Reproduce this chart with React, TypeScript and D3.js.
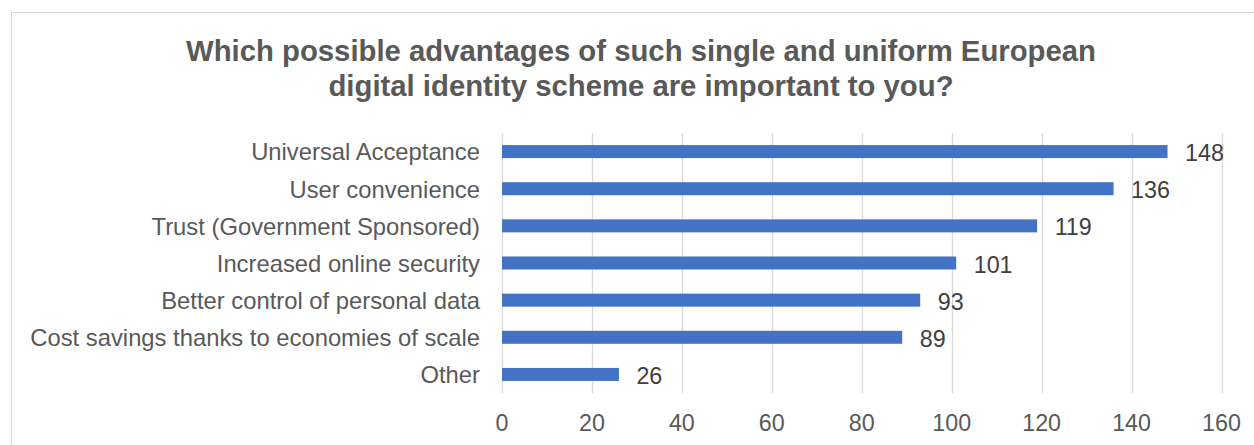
import React from "react";
import * as d3 from "d3";

const titleLines = [
  "Which possible advantages of such single and uniform European",
  "digital identity scheme are important to you?",
];
const categories = [
  "Universal Acceptance",
  "User convenience",
  "Trust (Government Sponsored)",
  "Increased online security",
  "Better control of personal data",
  "Cost savings thanks to economies of scale",
  "Other",
];
const values = [148, 136, 119, 101, 93, 89, 26];
const ticks = [0, 20, 40, 60, 80, 100, 120, 140, 160];

const W = 1254;
const H = 445;
const FONT = "Arial, 'Liberation Sans', sans-serif";

export default function App() {
  const x = d3.scaleLinear().domain([0, 160]).range([502, 1221.5]);
  const y = d3
    .scaleBand<string>()
    .domain(categories)
    .range([133, 393])
    .paddingInner(0.65)
    .paddingOuter(0.325);
  const bw = y.bandwidth();

  return (
    <svg
      width={W}
      height={H}
      style={{ position: "absolute", left: 0, top: 0, background: "#fff" }}
      fontFamily={FONT}
    >
      <rect x={11.5} y={12.5} width={1400} height={600} fill="#fff" stroke="#d9d9d9" strokeWidth={1} />
      {titleLines.map((t, i) => (
        <text
          key={i}
          x={641}
          y={60.5 + i * 35}
          textAnchor="middle"
          fontSize={29.3}
          fontWeight="bold"
          fill="#595959"
        >
          {t}
        </text>
      ))}
      {ticks.map((t) => (
        <line
          key={"g" + t}
          x1={Math.round(x(t)) + 0.5}
          x2={Math.round(x(t)) + 0.5}
          y1={133}
          y2={393}
          stroke="#d9d9d9"
          strokeWidth={1.3}
        />
      ))}
      {ticks.map((t) => (
        <text
          key={"t" + t}
          x={x(t)}
          y={430.5}
          textAnchor="middle"
          fontSize={23.3}
          fill="#595959"
        >
          {t}
        </text>
      ))}
      {categories.map((c, i) => {
        const cy = (y(c) as number) + bw / 2;
        return (
          <g key={c}>
            <rect x={x(0)} y={y(c)} width={x(values[i]) - x(0)} height={bw} fill="#4472c4" />
            <text x={480} y={cy + 8.8} textAnchor="end" fontSize={23.8} fill="#595959">
              {c}
            </text>
            <text x={x(values[i]) + 17.5} y={cy + 9.5} fontSize={23.3} fill="#404040">
              {values[i]}
            </text>
          </g>
        );
      })}
    </svg>
  );
}
